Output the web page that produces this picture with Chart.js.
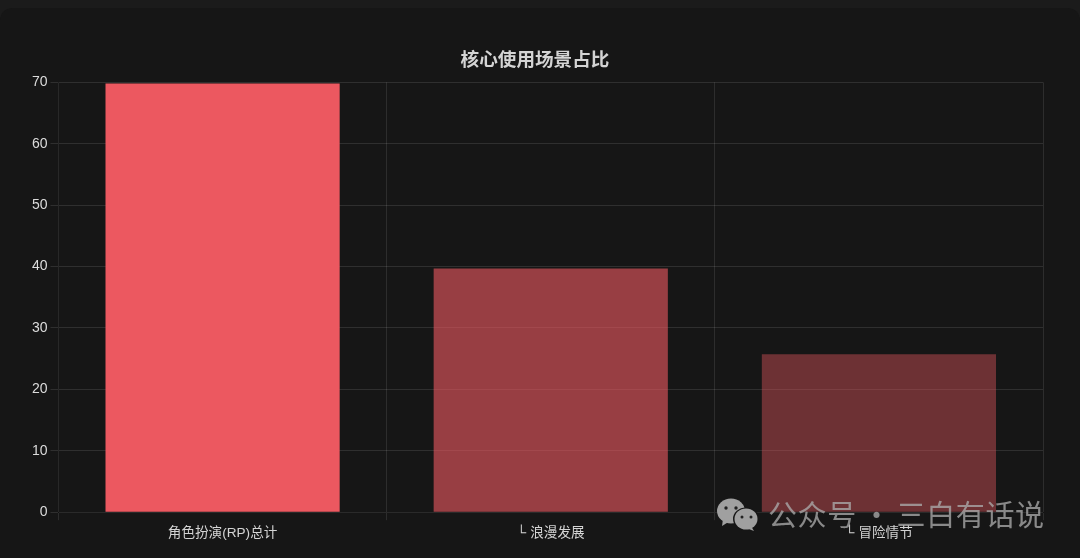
<!DOCTYPE html>
<html><head><meta charset="utf-8">
<script src="https://cdn.jsdelivr.net/npm/chart.js@4"></script>
<style>
html,body{margin:0;padding:0;background:#1b1b1b;width:1080px;height:558px;overflow:hidden}
#card{position:absolute;left:0;top:8px;width:1080px;height:550px;background:#161616;border-radius:12px 12px 0 0}
#wrap{position:absolute;left:0;top:0;width:1080px;height:558px}
#wm{position:absolute;left:768px;top:495px;font:29px/36px "Noto Sans CJK SC",sans-serif;color:rgba(170,170,170,.78);white-space:nowrap;letter-spacing:.6px;word-spacing:-2px}
#ic{position:absolute;left:716px;top:497px}
</style></head><body>
<div id="card"></div>
<div id="wrap"><canvas id="c" width="1080" height="558"></canvas></div>
<svg id="ic" width="46" height="36" viewBox="0 0 46 36">
<ellipse cx="15" cy="14" rx="14" ry="12.5" fill="#a0a0a0"/><path d="M7 22l-1 7 8-5z" fill="#a0a0a0"/>
<ellipse cx="30" cy="22" rx="13" ry="11.5" fill="#161616"/>
<ellipse cx="30" cy="22" rx="11.5" ry="10.5" fill="#a0a0a0"/><path d="M35 29l3 5-8-3z" fill="#a0a0a0"/>
<circle cx="10" cy="11" r="1.7" fill="#222"/><circle cx="20" cy="11" r="1.7" fill="#222"/>
<circle cx="26" cy="20" r="1.5" fill="#222"/><circle cx="35" cy="20" r="1.5" fill="#222"/>
</svg>
<div id="wm">公众号 · 三白有话说</div>
<script>
const categories = ["角色扮演(RP)总计", "└ 浪漫发展", "└ 冒险情节"];
const shares = [69.8, 39.7, 25.7];
const barColors = ["rgba(236,88,96,1)", "rgba(240,90,98,0.6)", "rgba(240,90,98,0.4)"];
const titleText = "核心使用场景占比";
const fam = '"Liberation Sans","Noto Sans CJK SC",sans-serif';
new Chart(document.getElementById("c"), {
  type: "bar",
  data: { labels: categories, datasets: [{ data: shares, backgroundColor: barColors, barPercentage: .8, categoryPercentage: .892 }] },
  options: {
    responsive: false, animation: false, devicePixelRatio: 1,
    layout: { padding: { left: 27, right: 37, top: 50, bottom: 11.5 } },
    plugins: {
      legend: { display: false },
      tooltip: { enabled: false },
      title: { display: true, text: titleText, color: "#d4d4d4", font: { family: fam, size: 18.6, weight: "bold" }, padding: { top: 0, bottom: 10 } }
    },
    scales: {
      x: { grid: { color: "rgba(255,255,255,.1)" }, ticks: { padding: 5, color: "#d4d4d4", font: { family: fam, size: 13.6 } } },
      y: { min: 0, max: 70, afterFit(s) { s.width = 31.5; }, grid: { color: "rgba(255,255,255,.11)" }, ticks: { stepSize: 10, color: "#dcdcdc", font: { family: fam, size: 14 } } }
    }
  }
});
</script></body></html>
